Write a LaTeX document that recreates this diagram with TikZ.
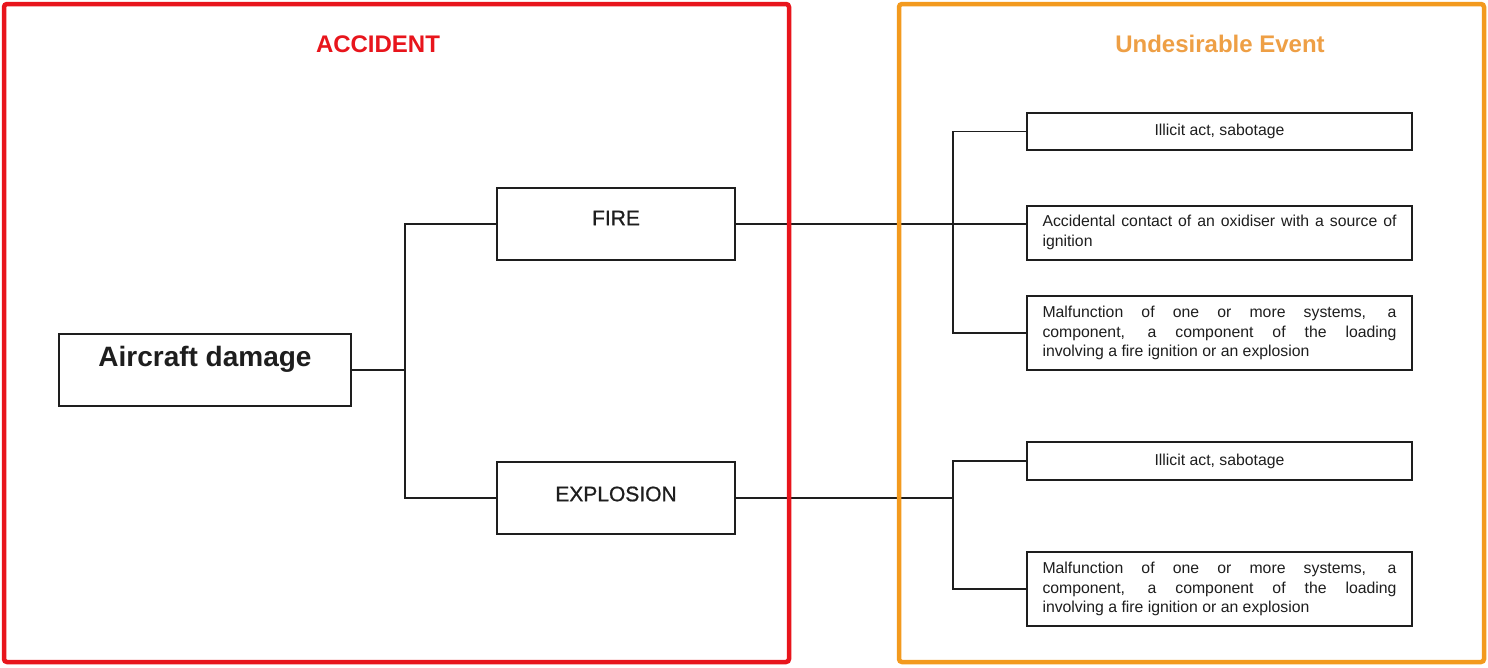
\documentclass[tikz,border=0pt]{standalone}
\usepackage{fontspec}
\setmainfont{Liberation Sans}
\newfontfamily\medfont[FakeBold=0.8]{Liberation Sans}
\definecolor{accred}{HTML}{E8151C}
\definecolor{evorange}{HTML}{F39A1E}
\definecolor{evtext}{HTML}{EE9F45}
\definecolor{ink}{HTML}{1E1E1E}
\begin{document}
\begin{tikzpicture}[x=1pt,y=-1pt,
  box/.style={draw=ink,line width=1.6pt,rectangle,inner sep=0pt},
  conn/.style={draw=ink,line width=1.6pt},
  frame/.style={line width=4.5pt,rounded corners=3pt},
  title/.style={font=\fontsize{24}{28}\selectfont\bfseries},
  big/.style={font=\medfont\fontsize{21}{25}\selectfont, text=ink},
  small/.style={font=\fontsize{15.8}{19.5}\selectfont, text=ink, inner sep=0pt},
  para/.style={small, text width=354pt, align=justify}
]
\useasboundingbox (0,0) rectangle (1488,667);
\fill[white] (0,0) rectangle (1488,667);

% left boxes
\node[box,minimum width=292pt,minimum height=72pt] (ad) at (205,370) {};
\node[font=\fontsize{28}{32}\selectfont\bfseries,text=ink] (adt) at (205,359) {Aircraft damage};
\node[box,minimum width=238pt,minimum height=72pt] (fire) at (616,224) {};
\node[big] (firet) at (616,218) {FIRE};
\node[box,minimum width=238pt,minimum height=72pt] (expl) at (616,498) {};
\node[big] (explt) at (616,494) {EXPLOSION};

% right boxes
\node[box,minimum width=385pt,minimum height=37pt] (il1) at (1219.5,131.5) {};
\node[small] (il1t) at (1219.5,131) {Illicit act, sabotage};
\node[box,minimum width=385pt,minimum height=54pt] (acc) at (1219.5,233) {};
\node[para] (acct) at (1219.5,232.5) {Accidental contact of an oxidiser with a source of ignition};
\node[box,minimum width=385pt,minimum height=74pt] (mal1) at (1219.5,333) {};
\node[para] (mal1t) at (1219.5,333) {Malfunction of one or more systems, a\linebreak component, a component of the loading\linebreak involving a fire ignition or an explosion};
\node[box,minimum width=385pt,minimum height=38pt] (il2) at (1219.5,461) {};
\node[small] (il2t) at (1219.5,461) {Illicit act, sabotage};
\node[box,minimum width=385pt,minimum height=74pt] (mal2) at (1219.5,589) {};
\node[para] (mal2t) at (1219.5,589) {Malfunction of one or more systems, a\linebreak component, a component of the loading\linebreak involving a fire ignition or an explosion};

% connectors
\coordinate (j1) at (405,370);
\draw[conn] (ad.east) -- (j1);
\draw[conn] (j1) |- (fire.west);
\draw[conn] (j1) |- (expl.west);
\coordinate (j2) at (953,224);
\draw[conn] (fire.east) -- (j2);
\draw[conn] (j2) |- (il1.west);
\draw[conn] (j2) |- (mal1.west);
\draw[conn] (j2) -- (acc.west |- j2);
\coordinate (j3) at (953,498);
\draw[conn] (expl.east) -- (j3);
\draw[conn] (j3) |- (il2.west);
\draw[conn] (j3) |- (mal2.west);

% frames
\draw[frame,accred] (4,4) rectangle (789,662);
\draw[frame,evorange] (899,4) rectangle (1484,662);
\node[title,text=accred] (acctitle) at (378,44) {ACCIDENT};
\node[title,text=evtext] (evtitle) at (1220,44) {Undesirable Event};
\end{tikzpicture}
\end{document}
